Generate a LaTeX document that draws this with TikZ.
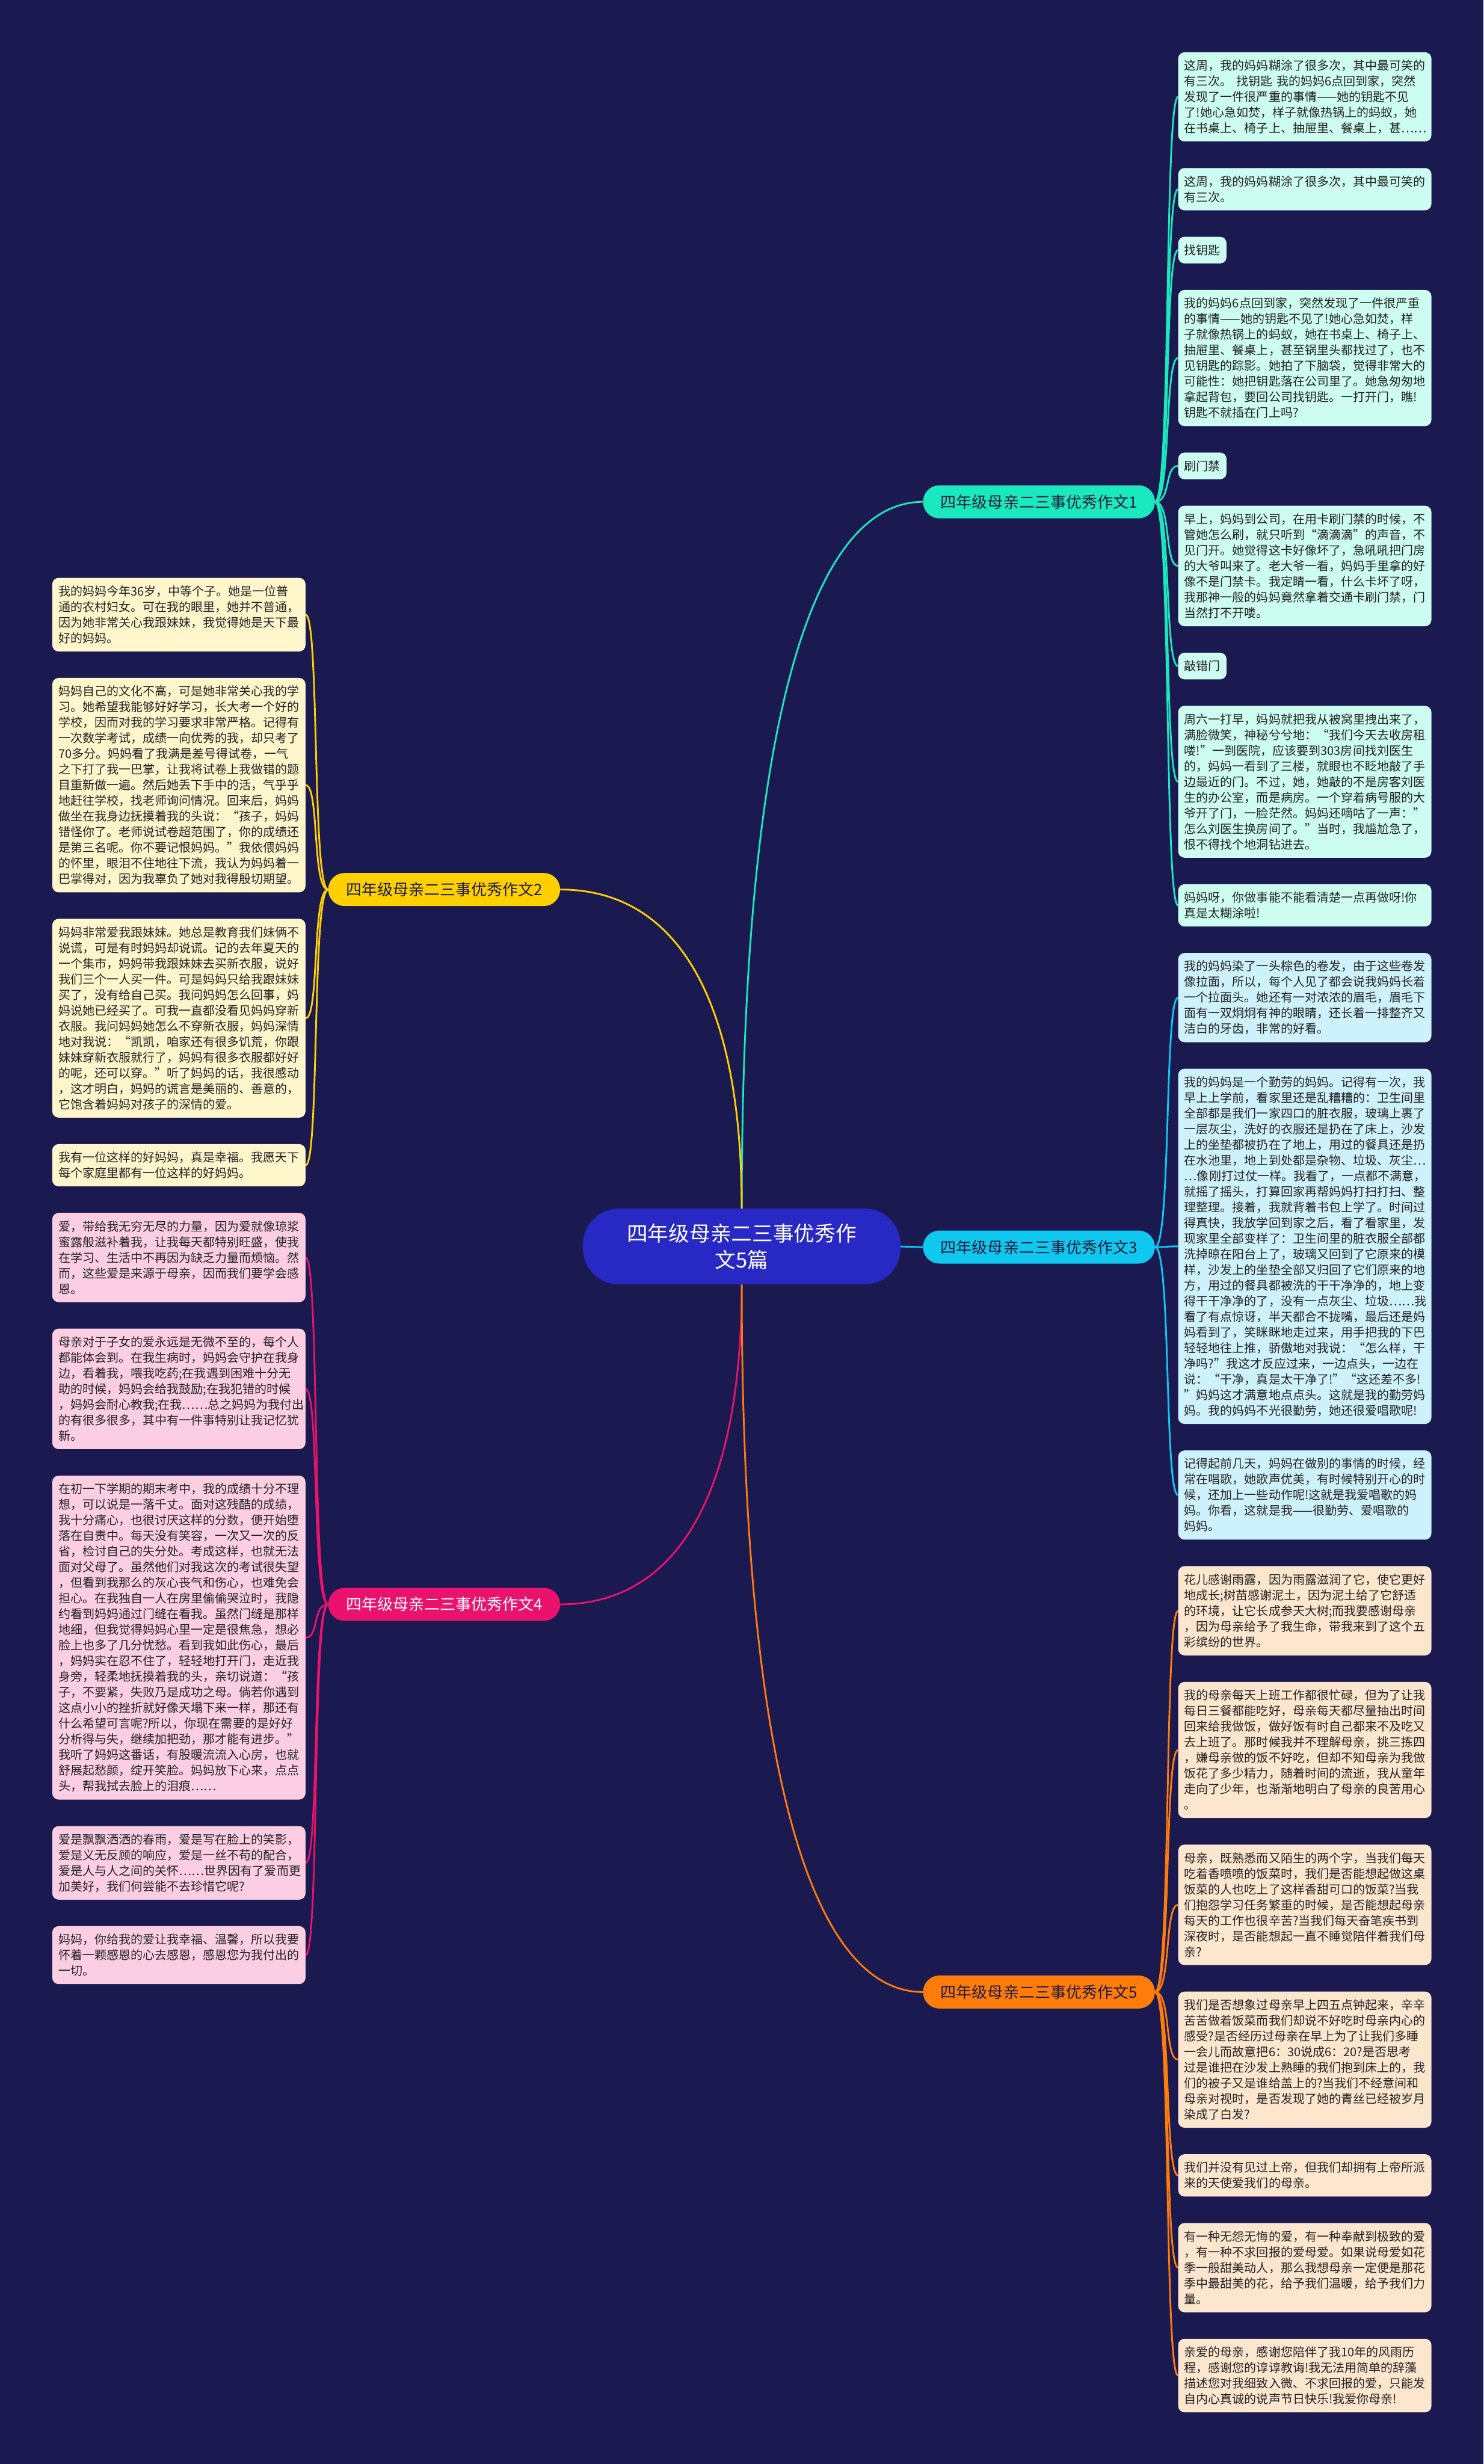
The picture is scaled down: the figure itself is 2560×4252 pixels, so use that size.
\documentclass[tikz,border=0pt]{standalone}
\usepackage{fontspec}
\setmainfont{Noto Sans CJK SC}
\usetikzlibrary{calc,backgrounds}
\definecolor{bgc}{RGB}{26,26,80}
\definecolor{cfill}{RGB}{40,40,196}
\definecolor{k1}{RGB}{26,232,190}
\definecolor{k2}{RGB}{255,208,0}
\definecolor{k3}{RGB}{14,200,240}
\definecolor{k4}{RGB}{235,18,110}
\definecolor{k5}{RGB}{255,123,10}
\definecolor{f1}{RGB}{204,253,240}
\definecolor{f2}{RGB}{255,246,204}
\definecolor{f3}{RGB}{206,242,252}
\definecolor{f4}{RGB}{252,206,228}
\definecolor{f5}{RGB}{253,230,206}
\definecolor{leaftext}{RGB}{34,34,34}
\definecolor{btext}{RGB}{30,30,60}
\newcommand\leaffont{\fontsize{20.8}{27}\selectfont}
\tikzset{
  leafbase/.style={rounded corners=11pt, inner xsep=10.5pt, inner ysep=0pt, align=left, font=\leaffont, text=leaftext, anchor=north west},
  leaf/.style={leafbase, text width=416pt},
  leafshort/.style={leafbase, minimum height=46pt},
  nl/.style={minimum height={#1*27pt+19pt}},
  branchbox/.style={rounded corners=28pt, minimum width=400pt, minimum height=57pt, inner sep=0pt, font=\fontsize{27}{32}\selectfont, text=btext},
  centerbox/.style={fill=cfill, text=white, rounded corners=62pt, minimum width=548pt, minimum height=131pt, inner sep=0pt, align=center, font=\fontsize{36}{46}\selectfont},
  edge/.style={line width=3pt},
}
\begin{document}
\begin{tikzpicture}[x=1pt,y=-1pt]
\useasboundingbox (0,0) rectangle (2560,4252);

% center and branches
\node[centerbox] (c) at (1280,2151) {四年级母亲二三事优秀作\\文5篇};
\node[branchbox, fill=k1] (b1) at (1793,866) {四年级母亲二三事优秀作文1};
\node[branchbox, fill=k2] (b2) at (766.5,1535) {四年级母亲二三事优秀作文2};
\node[branchbox, fill=k3] (b3) at (1793,2152) {四年级母亲二三事优秀作文3};
\node[branchbox, fill=k4, text=white] (b4) at (766.5,2768.5) {四年级母亲二三事优秀作文4};
\node[branchbox, fill=k5] (b5) at (1793,3437.5) {四年级母亲二三事优秀作文5};

% group 1
\node[leaf, nl=5, fill=f1] (r1a) at (2033,90) {这周，我的妈妈糊涂了很多次，其中最可笑的\\有三次。 找钥匙 我的妈妈6点回到家，突然\\发现了一件很严重的事情——她的钥匙不见\\了!她心急如焚，样子就像热锅上的蚂蚁，她\\在书桌上、椅子上、抽屉里、餐桌上，甚……};
\node[leaf, nl=2, fill=f1] (r1b) at (2033,289.7) {这周，我的妈妈糊涂了很多次，其中最可笑的\\有三次。};
\node[leafshort, fill=f1] (r1c) at (2033,408.4) {找钥匙};
\node[leaf, nl=8, fill=f1] (r1d) at (2033,500.1) {我的妈妈6点回到家，突然发现了一件很严重\\的事情——她的钥匙不见了!她心急如焚，样\\子就像热锅上的蚂蚁，她在书桌上、椅子上、\\抽屉里、餐桌上，甚至锅里头都找过了，也不\\见钥匙的踪影。她拍了下脑袋，觉得非常大的\\可能性：她把钥匙落在公司里了。她急匆匆地\\拿起背包，要回公司找钥匙。一打开门，瞧!\\钥匙不就插在门上吗?};
\node[leafshort, fill=f1] (r1e) at (2033,780.8) {刷门禁};
\node[leaf, nl=7, fill=f1] (r1f) at (2033,872.5) {早上，妈妈到公司，在用卡刷门禁的时候，不\\管她怎么刷，就只听到“滴滴滴”的声音，不\\见门开。她觉得这卡好像坏了，急吼吼把门房\\的大爷叫来了。老大爷一看，妈妈手里拿的好\\像不是门禁卡。我定睛一看，什么卡坏了呀，\\我那神一般的妈妈竟然拿着交通卡刷门禁，门\\当然打不开喽。};
\node[leafshort, fill=f1] (r1g) at (2033,1126.2) {敲错门};
\node[leaf, nl=9, fill=f1] (r1h) at (2033,1217.9) {周六一打早，妈妈就把我从被窝里拽出来了，\\满脸微笑，神秘兮兮地：“我们今天去收房租\\喽!”一到医院，应该要到303房间找刘医生\\的，妈妈一看到了三楼，就眼也不眨地敲了手\\边最近的门。不过，她，她敲的不是房客刘医\\生的办公室，而是病房。一个穿着病号服的大\\爷开了门，一脸茫然。妈妈还嘀咕了一声：”\\怎么刘医生换房间了。”当时，我尴尬急了，\\恨不得找个地洞钻进去。};
\node[leaf, nl=2, fill=f1] (r1i) at (2033,1525.6) {妈妈呀，你做事能不能看清楚一点再做呀!你\\真是太糊涂啦!};

% group 3
\node[leaf, nl=5, fill=f3] (r3a) at (2033,1644.3) {我的妈妈染了一头棕色的卷发，由于这些卷发\\像拉面，所以，每个人见了都会说我妈妈长着\\一个拉面头。她还有一对浓浓的眉毛，眉毛下\\面有一双炯炯有神的眼睛，还长着一排整齐又\\洁白的牙齿，非常的好看。};
\node[leaf, nl=22, fill=f3] (r3b) at (2033,1844) {我的妈妈是一个勤劳的妈妈。记得有一次，我\\早上上学前，看家里还是乱糟糟的：卫生间里\\全部都是我们一家四口的脏衣服，玻璃上裹了\\一层灰尘，洗好的衣服还是扔在了床上，沙发\\上的坐垫都被扔在了地上，用过的餐具还是扔\\在水池里，地上到处都是杂物、垃圾、灰尘…\\…像刚打过仗一样。我看了，一点都不满意，\\就摇了摇头，打算回家再帮妈妈打扫打扫、整\\理整理。接着，我就背着书包上学了。时间过\\得真快，我放学回到家之后，看了看家里，发\\现家里全部变样了：卫生间里的脏衣服全部都\\洗掉晾在阳台上了，玻璃又回到了它原来的模\\样，沙发上的坐垫全部又归回了它们原来的地\\方，用过的餐具都被洗的干干净净的，地上变\\得干干净净的了，没有一点灰尘、垃圾……我\\看了有点惊讶，半天都合不拢嘴，最后还是妈\\妈看到了，笑眯眯地走过来，用手把我的下巴\\轻轻地往上推，骄傲地对我说：“怎么样，干\\净吗?”我这才反应过来，一边点头，一边在\\说：“干净，真是太干净了!”“这还差不多!\\”妈妈这才满意地点点头。这就是我的勤劳妈\\妈。我的妈妈不光很勤劳，她还很爱唱歌呢!};
\node[leaf, nl=5, fill=f3] (r3c) at (2033,2502.7) {记得起前几天，妈妈在做别的事情的时候，经\\常在唱歌，她歌声优美，有时候特别开心的时\\候，还加上一些动作呢!这就是我爱唱歌的妈\\妈。你看，这就是我——很勤劳、爱唱歌的\\妈妈。};

% group 5
\node[leaf, nl=5, fill=f5] (r5a) at (2033,2702.4) {花儿感谢雨露，因为雨露滋润了它，使它更好\\地成长;树苗感谢泥土，因为泥土给了它舒适\\的环境，让它长成参天大树;而我要感谢母亲\\，因为母亲给予了我生命，带我来到了这个五\\彩缤纷的世界。};
\node[leaf, nl=8, fill=f5] (r5b) at (2033,2902.1) {我的母亲每天上班工作都很忙碌，但为了让我\\每日三餐都能吃好，母亲每天都尽量抽出时间\\回来给我做饭，做好饭有时自己都来不及吃又\\去上班了。那时候我并不理解母亲，挑三拣四\\，嫌母亲做的饭不好吃，但却不知母亲为我做\\饭花了多少精力，随着时间的流逝，我从童年\\走向了少年，也渐渐地明白了母亲的良苦用心\\。};
\node[leaf, nl=7, fill=f5] (r5c) at (2033,3182.8) {母亲，既熟悉而又陌生的两个字，当我们每天\\吃着香喷喷的饭菜时，我们是否能想起做这桌\\饭菜的人也吃上了这样香甜可口的饭菜?当我\\们抱怨学习任务繁重的时候，是否能想起母亲\\每天的工作也很辛苦?当我们每天奋笔疾书到\\深夜时，是否能想起一直不睡觉陪伴着我们母\\亲?};
\node[leaf, nl=8, fill=f5] (r5d) at (2033,3436.5) {我们是否想象过母亲早上四五点钟起来，辛辛\\苦苦做着饭菜而我们却说不好吃时母亲内心的\\感受?是否经历过母亲在早上为了让我们多睡\\一会儿而故意把6：30说成6：20?是否思考\\过是谁把在沙发上熟睡的我们抱到床上的，我\\们的被子又是谁给盖上的?当我们不经意间和\\母亲对视时，是否发现了她的青丝已经被岁月\\染成了白发?};
\node[leaf, nl=2, fill=f5] (r5e) at (2033,3717.2) {我们并没有见过上帝，但我们却拥有上帝所派\\来的天使爱我们的母亲。};
\node[leaf, nl=5, fill=f5] (r5f) at (2033,3835.9) {有一种无怨无悔的爱，有一种奉献到极致的爱\\，有一种不求回报的爱母爱。如果说母爱如花\\季一般甜美动人，那么我想母亲一定便是那花\\季中最甜美的花，给予我们温暖，给予我们力\\量。};
\node[leaf, nl=4, fill=f5] (r5g) at (2033,4035.6) {亲爱的母亲，感谢您陪伴了我10年的风雨历\\程，感谢您的谆谆教诲!我无法用简单的辞藻\\描述您对我细致入微、不求回报的爱，只能发\\自内心真诚的说声节日快乐!我爱你母亲!};

% group 2
\node[leaf, nl=4, fill=f2] (l2a) at (90,997) {我的妈妈今年36岁，中等个子。她是一位普\\通的农村妇女。可在我的眼里，她并不普通，\\因为她非常关心我跟妹妹，我觉得她是天下最\\好的妈妈。};
\node[leaf, nl=13, fill=f2] (l2b) at (90,1169.7) {妈妈自己的文化不高，可是她非常关心我的学\\习。她希望我能够好好学习，长大考一个好的\\学校，因而对我的学习要求非常严格。记得有\\一次数学考试，成绩一向优秀的我，却只考了\\70多分。妈妈看了我满是差号得试卷，一气\\之下打了我一巴掌，让我将试卷上我做错的题\\目重新做一遍。然后她丢下手中的活，气乎乎\\地赶往学校，找老师询问情况。回来后，妈妈\\做坐在我身边抚摸着我的头说：“孩子，妈妈\\错怪你了。老师说试卷超范围了，你的成绩还\\是第三名呢。你不要记恨妈妈。”我依偎妈妈\\的怀里，眼泪不住地往下流，我认为妈妈着一\\巴掌得对，因为我辜负了她对我得殷切期望。};
\node[leaf, nl=12, fill=f2] (l2c) at (90,1585.4) {妈妈非常爱我跟妹妹。她总是教育我们妹俩不\\说谎，可是有时妈妈却说谎。记的去年夏天的\\一个集市，妈妈带我跟妹妹去买新衣服，说好\\我们三个一人买一件。可是妈妈只给我跟妹妹\\买了，没有给自己买。我问妈妈怎么回事，妈\\妈说她已经买了。可我一直都没看见妈妈穿新\\衣服。我问妈妈她怎么不穿新衣服，妈妈深情\\地对我说：“凯凯，咱家还有很多饥荒，你跟\\妹妹穿新衣服就行了，妈妈有很多衣服都好好\\的呢，还可以穿。”听了妈妈的话，我很感动\\，这才明白，妈妈的谎言是美丽的、善意的，\\它饱含着妈妈对孩子的深情的爱。};
\node[leaf, nl=2, fill=f2] (l2d) at (90,1974.1) {我有一位这样的好妈妈，真是幸福。我愿天下\\每个家庭里都有一位这样的好妈妈。};

% group 4
\node[leaf, nl=5, fill=f4] (l4a) at (90,2092.8) {爱，带给我无穷无尽的力量，因为爱就像琼浆\\蜜露般滋补着我，让我每天都特别旺盛，使我\\在学习、生活中不再因为缺乏力量而烦恼。然\\而，这些爱是来源于母亲，因而我们要学会感\\恩。};
\node[leaf, nl=7, fill=f4] (l4b) at (90,2292.5) {母亲对于子女的爱永远是无微不至的，每个人\\都能体会到。在我生病时，妈妈会守护在我身\\边，看着我，喂我吃药;在我遇到困难十分无\\助的时候，妈妈会给我鼓励;在我犯错的时候\\，妈妈会耐心教我;在我……总之妈妈为我付出\\的有很多很多，其中有一件事特别让我记忆犹\\新。};
\node[leaf, nl=20, fill=f4] (l4c) at (90,2546.2) {在初一下学期的期末考中，我的成绩十分不理\\想，可以说是一落千丈。面对这残酷的成绩，\\我十分痛心，也很讨厌这样的分数，便开始堕\\落在自责中。每天没有笑容，一次又一次的反\\省，检讨自己的失分处。考成这样，也就无法\\面对父母了。虽然他们对我这次的考试很失望\\，但看到我那么的灰心丧气和伤心，也难免会\\担心。在我独自一人在房里偷偷哭泣时，我隐\\约看到妈妈通过门缝在看我。虽然门缝是那样\\地细，但我觉得妈妈心里一定是很焦急，想必\\脸上也多了几分忧愁。看到我如此伤心，最后\\，妈妈实在忍不住了，轻轻地打开门，走近我\\身旁，轻柔地抚摸着我的头，亲切说道：“孩\\子，不要紧，失败乃是成功之母。倘若你遇到\\这点小小的挫折就好像天塌下来一样，那还有\\什么希望可言呢?所以，你现在需要的是好好\\分析得与失，继续加把劲，那才能有进步。”\\我听了妈妈这番话，有股暖流流入心房，也就\\舒展起愁颜，绽开笑脸。妈妈放下心来，点点\\头，帮我拭去脸上的泪痕……};
\node[leaf, nl=4, fill=f4] (l4d) at (90,3150.9) {爱是飘飘洒洒的春雨，爱是写在脸上的笑影，\\爱是义无反顾的响应，爱是一丝不苟的配合，\\爱是人与人之间的关怀……世界因有了爱而更\\加美好，我们何尝能不去珍惜它呢?};
\node[leaf, nl=3, fill=f4] (l4e) at (90,3323.6) {妈妈，你给我的爱让我幸福、温馨，所以我要\\怀着一颗感恩的心去感恩，感恩您为我付出的\\一切。};

\begin{scope}[on background layer]
\fill[bgc] (0,0) rectangle (2560,4252);
\coordinate (q1) at (c.north |- b1.west);
\coordinate (q2) at (c.north |- b2.east);
\coordinate (q4) at (c.south |- b4.east);
\coordinate (q5) at (c.south |- b5.west);
\draw[edge, k1] (c.north) .. controls ($(c.north)!0.65!(q1)$) and ($(b1.west)!0.65!(q1)$) .. (b1.west);
\draw[edge, k2] (c.north) .. controls ($(c.north)!0.65!(q2)$) and ($(b2.east)!0.65!(q2)$) .. (b2.east);
\draw[edge, k4] (c.south) .. controls ($(c.south)!0.65!(q4)$) and ($(b4.east)!0.65!(q4)$) .. (b4.east);
\draw[edge, k5] (c.south) .. controls ($(c.south)!0.65!(q5)$) and ($(b5.west)!0.65!(q5)$) .. (b5.west);
\draw[edge, k3] (c.east) -- (b3.west);
\foreach \n in {r1a,r1b,r1c,r1d,r1e,r1f,r1g,r1h,r1i}
  \draw[edge, k1] (b1.east) .. controls +(28,0) and +(-24,0) .. (\n.west);
\foreach \n in {r3a,r3b,r3c}
  \draw[edge, k3] (b3.east) .. controls +(28,0) and +(-24,0) .. (\n.west);
\foreach \n in {r5a,r5b,r5c,r5d,r5e,r5f,r5g}
  \draw[edge, k5] (b5.east) .. controls +(28,0) and +(-24,0) .. (\n.west);
\foreach \n in {l2a,l2b,l2c,l2d}
  \draw[edge, k2] (b2.west) .. controls +(-28,0) and +(24,0) .. (\n.east);
\foreach \n in {l4a,l4b,l4c,l4d,l4e}
  \draw[edge, k4] (b4.west) .. controls +(-28,0) and +(24,0) .. (\n.east);
\end{scope}
\end{tikzpicture}
\end{document}
